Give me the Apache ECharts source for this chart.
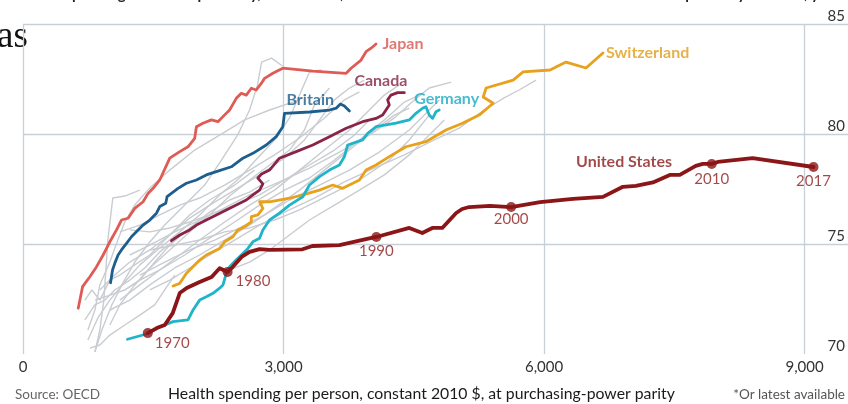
<!DOCTYPE html>
<html><head><meta charset="utf-8">
<script src="https://cdn.jsdelivr.net/npm/echarts@6/dist/echarts.min.js"></script>
<style>html,body{margin:0;padding:0;background:#fff}#c{width:848px;height:404px}</style>
</head><body><div id="c"></div><script>
// ---- axis ticks ----
const xTickValues = [0, 3000, 6000, 9000];
const yTickValues = [70, 75, 80, 85];

// ---- highlighted countries (x: health spending per person, y: life expectancy) ----
const usX = [1437,1540,1632,1724,1805,1885,2034,2172,2264,2356,2414,2517,2609,2724,2839,3218,3333,3644,3988,4069,4448,4598,4713,4828,4988,5057,5138,5379,5621,5954,6333,6678,6908,7057,7253,7448,7563,7747,7828,7931,8000,8402,9103];
const usY = [70.95,71.18,71.32,71.86,72.77,73.0,73.27,73.5,73.9,73.73,73.95,74.41,74.64,74.77,74.73,74.76,74.91,74.95,75.26,75.32,75.73,75.5,75.73,75.73,76.41,76.59,76.68,76.73,76.68,76.9,77.05,77.14,77.6,77.64,77.8,78.14,78.14,78.55,78.64,78.64,78.73,78.9,78.5];
const usYears = ['1970','1980','1990','2000','2010','2017'];
const usYearIdx = [0, 9, 19, 28, 39, 42];

const japanX = [636,686,770,847,923,1000,1077,1134,1210,1287,1383,1440,1498,1575,1690,1805,1900,1977,1997,2072,2169,2245,2302,2379,2456,2514,2571,2629,2686,2744,2782,2877,2992,3337,3721,3778,3893,3950,4008,4065];
const japanY = [72.08,73.06,73.51,73.97,74.5,75.1,75.64,76.09,76.17,76.62,76.92,77.3,77.53,77.91,78.9,79.2,79.42,79.8,80.33,80.49,80.64,80.56,80.79,81.09,81.62,81.85,81.77,82.08,82.0,82.3,82.53,82.76,82.99,82.86,82.76,82.99,83.36,83.74,83.9,84.09];

const britainX = [1008,1031,1057,1095,1134,1192,1249,1325,1383,1460,1537,1575,1644,1659,1709,1785,1882,1997,2111,2226,2399,2532,2647,2801,2916,2992,3011,3299,3529,3609,3655,3701,3759];
const britainY = [73.24,73.82,74.12,74.5,74.73,75.03,75.33,75.64,75.86,76.09,76.4,76.7,76.85,77.15,77.3,77.53,77.76,77.91,78.14,78.29,78.51,78.9,79.12,79.5,79.88,80.33,80.94,81.0,81.09,81.18,81.36,81.27,81.05];

const canadaX = [1709,1805,1919,1997,2111,2226,2341,2456,2571,2647,2724,2762,2704,2747,2839,2954,3146,3337,3529,3721,3911,4065,4141,4180,4218,4199,4237,4314,4391];
const canadaY = [75.15,75.41,75.64,75.86,76.09,76.32,76.55,76.77,77.0,77.23,77.45,77.73,78.0,78.18,78.36,78.9,79.2,79.5,79.88,80.26,80.56,80.71,80.86,81.09,81.32,81.55,81.77,81.88,81.88];

const germanyX = [1203,1422,1575,1728,1900,1958,2034,2111,2188,2264,2303,2341,2379,2437,2514,2590,2647,2724,2762,2839,2954,3069,3222,3299,3414,3529,3644,3701,3739,3911,3969,4065,4295,4448,4525,4601,4640,4678,4717,4755,4793];
const germanyY = [70.67,70.91,71.23,71.47,71.55,72.0,72.45,72.6,72.76,72.99,73.14,73.67,73.97,74.2,74.5,74.8,75.1,75.26,75.64,76.09,76.4,76.77,77.15,77.68,78.06,78.36,78.59,78.97,79.5,79.73,80.03,80.33,80.49,80.64,80.94,81.17,81.24,80.86,80.71,81.01,81.09];

const swissX = [1728,1805,1882,1957,2034,2111,2188,2264,2322,2417,2475,2552,2629,2629,2705,2762,2724,2839,3069,3222,3414,3567,3682,3874,3950,4065,4218,4410,4640,4870,5061,5253,5414,5299,5333,5644,5759,6069,6253,6483,6678];
const swissY = [73.09,73.21,73.67,73.97,74.27,74.5,74.65,74.8,75.1,75.33,75.64,75.79,76.01,76.24,76.32,76.62,76.92,76.92,77.08,77.23,77.45,77.68,77.53,77.91,78.36,78.59,78.97,79.42,79.65,80.18,80.49,80.86,81.4,81.68,82.09,82.45,82.82,82.91,83.27,83.0,83.68];

// ---- other OECD countries (grey) ----
const greyX = [
  [828,908,1023,1138,1287,1460,1632,1862,2092,2287,2471,2609,2701,2747,2862,2988],
  [747,862,1000,1172,1345,1575,1805,2034,2264,2494,2701,2897,3069,3184,3299,3437],
  [1000,1115,1287,1460,1690,1919,2149,2379,2609,2839,3069,3241,3356,3529],
  [1115,1345,1575,1805,2034,2322,2609,2897,3184,3471,3759,3988,4161,4333],
  [885,1057,1230,1460,1690,1919,2149,2437,2724,3011,3241,3414,3586,3759,3931],
  [1230,1460,1747,2034,2322,2609,2954,3299,3644,3988,4276,4506,4678,4931],
  [1460,1690,1919,2149,2437,2724,3011,3356,3701,4046,4391,4736,5023,5310,5540,5713,5908],
  [1345,1632,1919,2207,2494,2782,3069,3414,3759,4103,4448,4621,4793],
  [1172,1345,1575,1862,2149,2437,2724,3011,3299,3586,3874,4161,4391,4563],
  [1460,1747,2034,2322,2609,2897,3184,3529,3874,4218,4448,4678],
  [747,828,885,1000,1092,1172,1287,1460,1690,1977,2264,2552,2839,3184],
  [1000,1230,1460,1747,2034,2322,2609,2897,3184,3471,3759,4046,4276,4448],
  [828,1000,1172,1345,1517,1690,1919,2149,2379,2609,2839],
  [713,828,943,1057,1230,1402,1575,1747,1919,2092],
  [828,885,931,954,977,1011,1034,1172,1345],
  [713,793,885,1000,1115,1287,1460,1690,1919,2149,2437,2666],
  [1230,1460,1690,1919,2149,2437,2724,3011,3299,3586,3816,3988],
  [1115,1345,1575,1805,2034,2322,2609,2897,3184,3471,3701,3874],
  [770,885,1000,1172,1345,1517,1632,1747],
  [2379,2609,2839,3069,3299,3586,3874,4161,4448,4678,4851]
];
const greyY = [
  [70.09,71.09,72.23,73.14,74.18,75.09,75.86,76.77,77.68,78.82,79.95,81.09,82.23,83.27,83.45,83.09],
  [70.64,71.64,72.45,73.27,74.05,74.82,75.55,76.32,77.23,78.0,78.91,79.73,80.73,81.77,82.82,82.91],
  [71.32,72.23,73.14,73.91,74.73,75.55,76.32,77.18,77.91,78.59,79.27,80.18,81.32,82.09],
  [72.45,73.14,73.82,74.5,75.18,76.0,76.77,77.45,78.36,79.27,80.18,81.09,81.77,82.23],
  [72.91,73.59,74.18,74.73,75.41,76.18,76.77,77.45,78.14,78.91,79.73,80.64,81.55,82.09,82.45],
  [74.5,74.95,75.55,76.09,76.64,77.23,77.82,78.45,79.18,79.95,80.73,81.55,82.09,82.36],
  [72.91,73.36,73.91,74.5,75.18,75.86,76.45,77.09,77.82,78.45,79.05,79.73,80.27,81.09,81.64,82.0,82.45],
  [73.59,74.18,74.73,75.18,75.73,76.32,77.0,77.68,78.36,79.18,80.18,80.86,81.55],
  [72.91,73.36,73.82,74.5,75.27,76.0,76.77,77.45,78.0,78.82,79.73,80.64,81.45,81.77],
  [74.73,74.95,75.18,75.55,75.73,76.09,76.55,77.23,77.91,78.82,79.73,80.86],
  [71.09,72.0,73.14,74.18,75.18,76.0,76.77,77.55,78.36,79.27,79.95,80.64,81.09,81.55],
  [72.0,72.45,73.14,73.91,74.5,75.18,75.86,76.64,77.45,78.36,79.27,80.18,80.86,81.18],
  [72.45,72.68,72.91,73.36,74.18,74.95,75.73,76.45,77.0,77.36,77.91],
  [71.55,72.23,72.45,72.91,73.36,73.91,74.64,75.18,75.73,76.09],
  [70.1,71.09,72.45,73.82,75.18,76.32,77.09,77.18,77.45],
  [72.45,72.91,72.45,73.36,73.59,74.05,74.5,75.41,76.32,77.0,77.68,78.36],
  [75.64,75.55,75.73,76.0,76.32,76.77,77.23,77.91,78.59,79.27,79.95,80.64],
  [75.55,75.86,76.32,76.77,77.09,77.68,78.36,79.05,79.82,80.73,81.55,81.91],
  [70.27,70.41,70.86,71.32,71.77,72.23,72.91,73.59],
  [73.82,74.18,74.73,75.41,76.09,76.77,77.45,78.14,79.05,79.95,80.64]
];

// ---- country name labels (anchor = left edge of text) ----
const labelNames = ['Japan','Canada','Britain','Germany','Switzerland','United States'];
const labelX = [4140, 3816, 3034, 4506, 6713, 6368];
const labelY = [84.09, 82.41, 81.55, 81.59, 83.68, 78.73];
const labelColors = ['#d9554f','#852242','#1c5b8a','#1aabc3','#e09e1c','#8c1a1c'];

// ---- build ----
const FONT = 'Lato';
const zip = (xs, ys) => xs.map((x, i) => [x, ys[i]]);
const series = [];
greyX.forEach((xs, i) => series.push({
  type: 'line', data: zip(xs, greyY[i]), symbol: 'none', silent: true, z: 1,
  lineStyle: { color: '#c9ccd0', width: 1.4 }
}));
const mainLines = [
  [swissX, swissY, '#e8a11c', 2.8],
  [germanyX, germanyY, '#1fb4ca', 2.8],
  [canadaX, canadaY, '#8a2446', 2.8],
  [britainX, britainY, '#1d5e8d', 2.8],
  [japanX, japanY, '#df5b55', 2.8],
  [usX, usY, '#8c1517', 3.8]
];
mainLines.forEach(([xs, ys, c, w]) => series.push({
  type: 'line', data: zip(xs, ys), symbol: 'none', silent: true, z: 3,
  lineStyle: { color: c, width: w, join: 'round', cap: 'round' }
}));
const yearLabelPos = [
  { position: 'right', offset: [-3, 10] },
  { position: 'right', offset: [-2, 9] },
  { position: 'bottom', distance: 2 },
  { position: 'bottom', distance: 0 },
  { position: 'bottom', distance: 3 },
  { position: 'bottom', distance: 2 }
];
series.push({
  type: 'scatter', z: 5, silent: true, symbolSize: 10,
  itemStyle: { color: '#8c1517' },
  data: usYearIdx.map((idx, i) => ({
    value: [usX[idx], usY[idx]],
    label: Object.assign({ show: true, formatter: usYears[i], color: '#8c1a1c', fontSize: 15, fontFamily: FONT }, yearLabelPos[i])
  }))
});
series.push({
  type: 'scatter', z: 6, silent: true, symbolSize: 0,
  data: labelNames.map((n, i) => ({
    value: [labelX[i], labelY[i]],
    label: { show: true, formatter: n, position: [0, 0], align: 'left', verticalAlign: 'middle',
      color: labelColors[i], fontSize: 16, fontWeight: 'bold', fontFamily: FONT }
  }))
});

const chart = echarts.init(document.getElementById('c'));
chart.setOption({
  animation: false,
  backgroundColor: '#fff',
  grid: { left: 23, top: 24, right: -2, bottom: 50 },
  xAxis: {
    type: 'value', min: xTickValues[0], max: 9500, interval: xTickValues[1] - xTickValues[0],
    axisLine: { show: false }, axisTick: { show: false },
    splitLine: { show: true, showMaxLine: false, lineStyle: { color: '#c7d0d6', width: 1.3 } },
    axisLabel: { showMaxLabel: false, margin: 6, color: '#333', fontSize: 15, fontFamily: FONT,
      formatter: v => xTickValues.includes(v) ? v.toLocaleString('en-US') : '' }
  },
  yAxis: {
    type: 'value', position: 'right', min: yTickValues[0], max: yTickValues[3], interval: yTickValues[1] - yTickValues[0],
    axisLine: { show: false }, axisTick: { show: false },
    splitLine: { show: true, showMinLine: false, lineStyle: { color: '#c7d0d6', width: 1.3 } },
    axisLabel: { inside: true, verticalAlign: 'bottom', margin: 3, color: '#333', fontSize: 15, fontFamily: FONT }
  },
  graphic: [
    { type: 'text', x: 17, y: 2, style: { text: 'Health spending and life expectancy, 1970-2017, selected rich countries', font: 'bold 15px Lato', fill: '#222', verticalAlign: 'bottom' } },
    { type: 'text', x: 641, y: 2, style: { text: 'Life expectancy at birth*, years', font: 'bold 15px Lato', fill: '#222', verticalAlign: 'bottom' } },
    { type: 'text', x: -3, y: 56, style: { text: 'as', font: '37px "Liberation Serif"', fill: '#111', verticalAlign: 'bottom' } },
    { type: 'text', x: 15, y: 395, style: { text: 'Source: OECD', font: '13.5px Lato', fill: '#666', verticalAlign: 'middle' } },
    { type: 'text', x: 168, y: 394, style: { text: 'Health spending per person, constant 2010 $, at purchasing-power parity', font: '15.8px Lato', fill: '#1a1a1a', verticalAlign: 'middle' } },
    { type: 'text', x: 845, y: 395, style: { text: '*Or latest available', font: '13.5px Lato', fill: '#555', align: 'right', verticalAlign: 'middle' } }
  ],
  series: series
});
</script></body></html>
